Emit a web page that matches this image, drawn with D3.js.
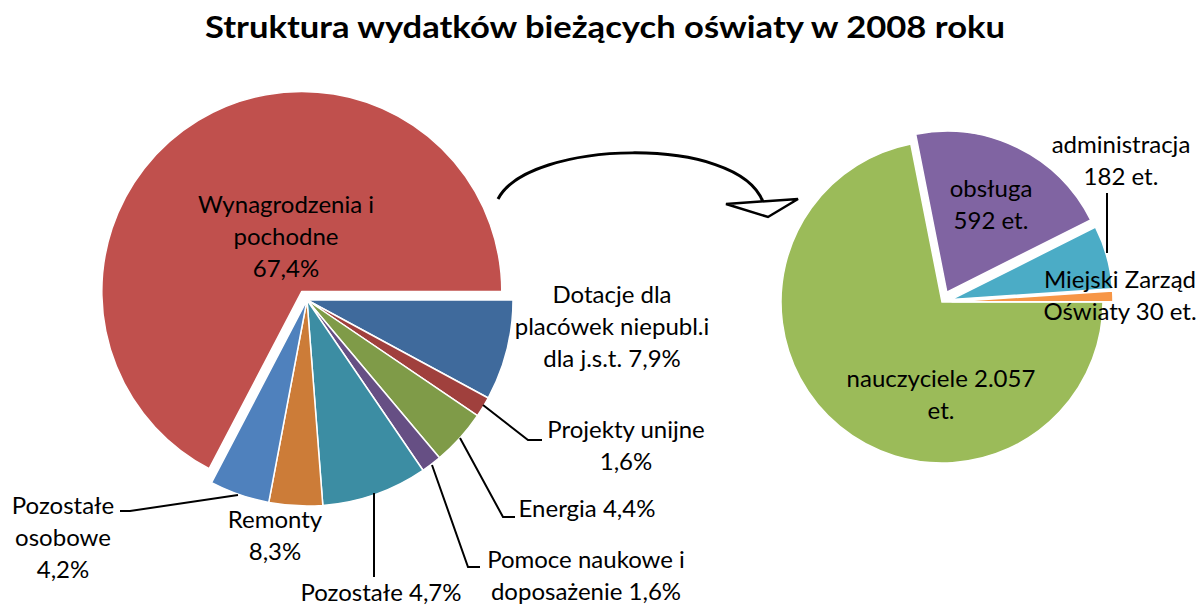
<!DOCTYPE html>
<html>
<head>
<meta charset="utf-8">
<script src="https://cdn.jsdelivr.net/npm/d3@7"></script>
<style>
  body { margin: 0; background: #fff; }
  svg { display: block; }
</style>
</head>
<body>
<script>
// ---- data ----
const chartTitle = "Struktura wydatków bieżących oświaty w 2008 roku";

// left pie: expenditure structure (%), clockwise from 3 o'clock
const costKeys   = ["dotacje", "projekty", "energia", "pomoce", "remonty", "osobowe", "pozostale", "wynagrodzenia"];
const costShares = [7.9, 1.6, 4.4, 1.6, 8.3, 4.2, 4.7, 67.4];
const costColors = ["#3F6A9C", "#A0403D", "#7F9B48", "#664F84", "#3C8DA3", "#CC7C38", "#4F81BD", "#C0504D"];

// right pie: staff (etaty), clockwise from 3 o'clock
const staffKeys   = ["nauczyciele", "obsluga", "administracja", "mzo"];
const staffCounts = [2057, 592, 182, 30];
const staffColors = ["#9BBB59", "#8064A2", "#4BACC6", "#F79646"];

// ---- layout (positions / styles only) ----
const W = 1200, H = 608;
const leftPie  = { cx: 307, cy: 300, r: 206, explode: { wynagrodzenia: 10 }, shrink: { wynagrodzenia: 6 } };
const rightPie = { cx: 942, cy: 302, r: 161, explode: { obsluga: 11, administracja: 10, mzo: 10 }, shrink: {} };

const pl = d3.formatLocale({ decimal: ",", thousands: ".", grouping: [3], currency: ["", " zł"] });
const pct = v => pl.format(".1f")(v) + "%";
const num = v => pl.format(",d")(v);

const costLabels = {
  wynagrodzenia: { x: 286, y: 213, lines: v => ["Wynagrodzenia i", "pochodne", pct(v)] },
  dotacje:       { x: 612, y: 303, lines: v => ["Dotacje dla", "placówek niepubl.i", "dla j.s.t. " + pct(v)] },
  projekty:      { x: 626, y: 438, lines: v => ["Projekty unijne", pct(v)] },
  energia:       { x: 587, y: 517, lines: v => ["Energia " + pct(v)] },
  pomoce:        { x: 586, y: 568, lines: v => ["Pomoce naukowe i", "doposażenie " + pct(v)] },
  remonty:       { x: 275, y: 528, lines: v => ["Remonty", pct(v)] },
  osobowe:       { x: 63,  y: 514, lines: v => ["Pozostałe", "osobowe", pct(v)] },
  pozostale:     { x: 381, y: 601, lines: v => ["Pozostałe " + pct(v)] }
};
const staffLabels = {
  nauczyciele:   { x: 941,  y: 387, lines: v => ["nauczyciele " + num(v), "et."] },
  obsluga:       { x: 991,  y: 197, lines: v => ["obsługa", num(v) + " et."] },
  administracja: { x: 1121, y: 153, lines: v => ["administracja", num(v) + " et."] },
  mzo:           { x: 1120, y: 288, lines: v => ["Miejski Zarząd", "Oświaty " + num(v) + " et."] }
};

// leader lines (annotation)
const leaders = [
  [[483, 405], [528, 440], [542, 440]],
  [[460, 438], [503, 517], [515, 517]],
  [[432, 465], [468, 567], [480, 567]],
  [[374, 493], [374, 577]],
  [[238, 495], [130, 511], [120, 511]],
  [[1107, 193], [1107, 253]]
];

const fontFamily = "Lato, 'Open Sans', sans-serif";
const fontSize = 24, lineH = 32;

// ---- drawing ----
const svg = d3.select(document.body).append("svg")
  .attr("width", W)
  .attr("height", H)
  .attr("viewBox", [0, 0, W, H]);

svg.append("text")
  .attr("x", 605)
  .attr("y", 38)
  .attr("text-anchor", "middle")
  .attr("font-family", fontFamily)
  .attr("font-weight", "bold")
  .attr("font-size", 30)
  .attr("textLength", 800)
  .attr("lengthAdjust", "spacingAndGlyphs")
  .attr("fill", "#000")
  .text(chartTitle);

function drawPie (keys, values, colors, cfg) {
  const pie = d3.pie()
    .sort(null)
    .startAngle(Math.PI / 2)
    .endAngle(Math.PI / 2 + 2 * Math.PI);
  const arcs = pie(values).map((a, i) => Object.assign(a, { key: keys[i], color: colors[i] }));

  svg.append("g")
    .attr("transform", `translate(${cfg.cx},${cfg.cy})`)
    .selectAll("path")
    .data(arcs)
    .join("path")
      .attr("fill", d => d.color)
      .attr("stroke", "#fff")
      .attr("stroke-width", 1.5)
      .attr("stroke-linejoin", "round")
      .attr("transform", d => {
        const e = cfg.explode[d.key] || 0;
        const m = (d.startAngle + d.endAngle) / 2;
        return `translate(${Math.sin(m) * e},${-Math.cos(m) * e})`;
      })
      .attr("d", d => d3.arc().innerRadius(0).outerRadius(cfg.r - (cfg.shrink[d.key] || 0))(d));
  return arcs;
}

drawPie(costKeys, costShares, costColors, leftPie);
drawPie(staffKeys, staffCounts, staffColors, rightPie);

// curved arrow between pies
svg.append("path")
  .attr("d", "M498,199 C528,140 738,134 763,202")
  .attr("fill", "none")
  .attr("stroke", "#000")
  .attr("stroke-width", 3);
svg.append("path")
  .attr("d", "M726,204 L798,199 L768,217 Z")
  .attr("fill", "#fff")
  .attr("stroke", "#000")
  .attr("stroke-width", 2.5)
  .attr("stroke-linejoin", "miter");

// leaders
svg.append("g")
  .selectAll("path")
  .data(leaders)
  .join("path")
    .attr("d", d3.line())
    .attr("fill", "none")
    .attr("stroke", "#000")
    .attr("stroke-width", 2);

// labels
function drawLabels (keys, values, labels) {
  const g = svg.append("g")
    .attr("font-family", fontFamily)
    .attr("font-size", fontSize)
    .attr("fill", "#000")
    .attr("text-anchor", "middle");
  keys.forEach((k, i) => {
    const lab = labels[k];
    const t = g.append("text").attr("x", lab.x).attr("y", lab.y);
    lab.lines(values[i]).forEach((line, j) => {
      t.append("tspan")
        .attr("x", lab.x)
        .attr("dy", j === 0 ? 0 : lineH)
        .text(line);
    });
  });
}

drawLabels(costKeys, costShares, costLabels);
drawLabels(staffKeys, staffCounts, staffLabels);
</script>
</body>
</html>
